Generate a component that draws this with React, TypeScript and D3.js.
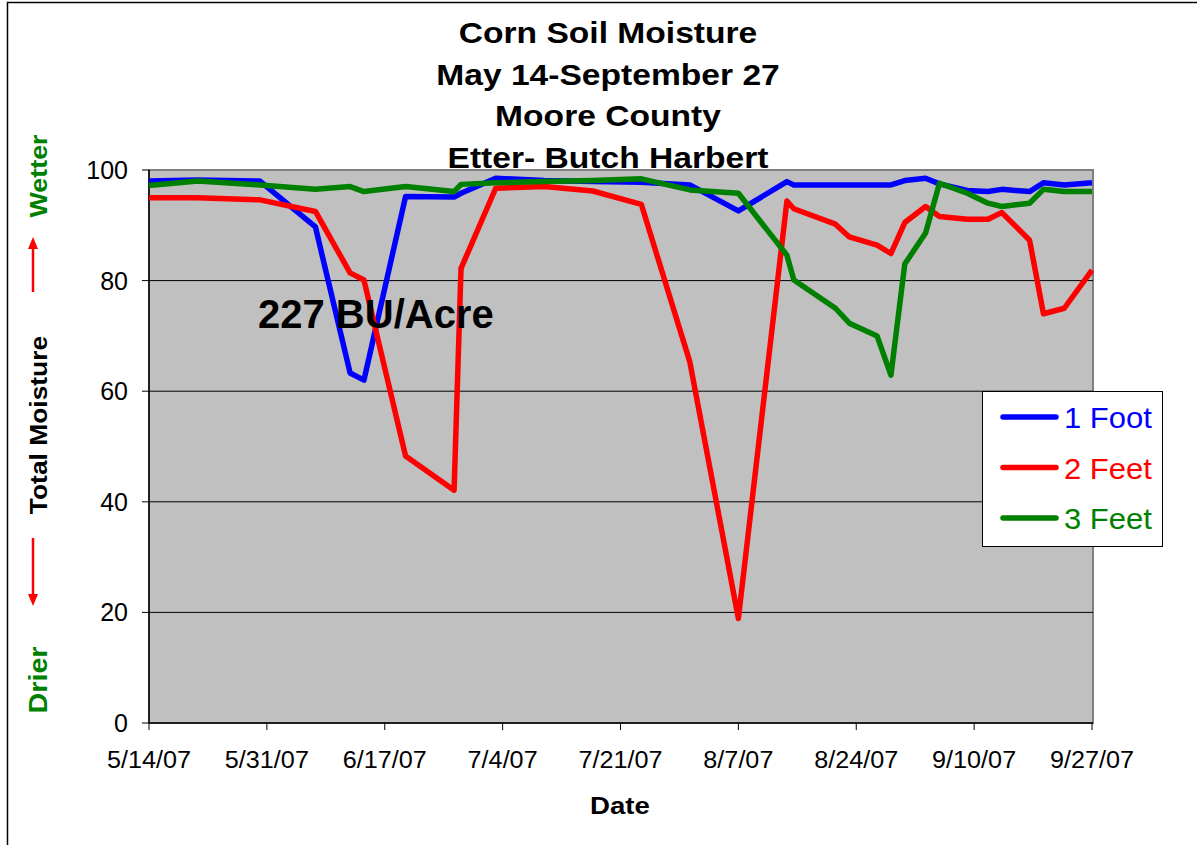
import React from "react";
import * as d3 from "d3";

// sampling dates, as day offsets from 5/14/07
const dayOffsets = [
  0, 7, 16, 24, 29, 31, 37, 44, 45, 50, 57, 64, 71, 78, 85, 92, 93, 99, 101,
  105, 107, 109, 112, 114, 118, 121, 123, 127, 129, 132, 136,
];

const oneFoot = [
  98, 98.2, 98, 89.7, 63.3, 62, 95.2, 95.1, 95.8, 98.5, 98.1, 97.9, 97.8, 97.3,
  92.6, 97.9, 97.3, 97.3, 97.3, 97.3, 97.3, 98.1, 98.5, 97.5, 96.3, 96.1, 96.5,
  96.1, 97.7, 97.3, 97.7,
];

const twoFeet = [
  95, 95, 94.6, 92.5, 81.4, 80.1, 48.3, 42.1, 82.2, 96.7, 97, 96.2, 93.8, 65.3,
  18.9, 94.4, 93, 90.2, 87.9, 86.4, 84.9, 90.5, 93.4, 91.6, 91.1, 91.1, 92.3,
  87.3, 74, 75, 81.9,
];

const threeFeet = [
  97.2, 98, 97.3, 96.5, 97, 96.1, 97, 96.1, 97.4, 97.7, 97.9, 98.1, 98.4, 96.4,
  95.8, 84.6, 80.1, 75, 72.3, 70, 62.9, 83, 88.6, 97.6, 95.8, 94, 93.4, 94,
  96.5, 96.1, 96.1,
];

const seriesNames = ["1 Foot", "2 Feet", "3 Feet"];
const seriesColors = ["#0000ff", "#ff0000", "#008000"];
const yTicks = [0, 20, 40, 60, 80, 100];
const xTickOffsets = [0, 17, 34, 51, 68, 85, 102, 119, 136];
const titleLines = [
  "Corn Soil Moisture",
  "May 14-September 27",
  "Moore County",
  "Etter- Butch Harbert",
];

const FONT = "'Liberation Sans', Arial, sans-serif";
const start = new Date(2007, 4, 14);
const dayToDate = (d: number) => d3.timeDay.offset(start, d);

// text that is a bit wider than the font draws it (the original is stretched)
function WideText(props: any) {
  const { x, y, sx = 1, rotate = 0, children, ...rest } = props;
  return (
    <text transform={`translate(${x},${y}) rotate(${rotate}) scale(${sx},1)`} {...rest}>
      {children}
    </text>
  );
}

export default function App() {
  const left = 149;
  const right = 1092;
  const top = 170;
  const bottom = 723;

  const x = d3
    .scaleTime()
    .domain([dayToDate(0), dayToDate(136)])
    .range([left, right]);
  const y = d3.scaleLinear().domain([0, 100]).range([bottom, top]);
  const fmt = d3.timeFormat("%-m/%-d/%y");

  const line = d3
    .line<number>()
    .x((_, i) => x(dayToDate(dayOffsets[i])))
    .y((v) => y(v));

  const series = [oneFoot, twoFeet, threeFeet];

  return (
    <svg
      width={1197}
      height={845}
      style={{ position: "absolute", left: 0, top: 0, background: "#fff" }}
      fontFamily={FONT}
    >
      <rect x={7.5} y={2.5} width={1300} height={900} fill="#fff" stroke="#000" strokeWidth={1.5} />

      {/* title */}
      {titleLines.map((t, i) => (
        <WideText
          key={t}
          x={608}
          y={43 + i * 41.5}
          sx={1.12}
          textAnchor="middle"
          fontWeight="bold"
          fontSize={30}
        >
          {t}
        </WideText>
      ))}

      {/* plot area */}
      <rect x={left} y={top} width={1093 - left} height={bottom - top} fill="#c0c0c0" stroke="#808080" strokeWidth={2} />
      {yTicks
        .filter((t) => t > 0 && t < 100)
        .map((t) => (
          <line key={t} x1={left} x2={1093} y1={y(t)} y2={y(t)} stroke="#000" strokeWidth={1} />
        ))}

      {/* axes */}
      <line x1={left} x2={left} y1={top} y2={bottom} stroke="#000" strokeWidth={1.5} />
      <line x1={left} x2={1093} y1={bottom} y2={bottom} stroke="#000" strokeWidth={1.5} />
      {yTicks.map((t) => (
        <g key={t}>
          <line x1={left - 7} x2={left} y1={y(t)} y2={y(t)} stroke="#000" />
          <text x={128} y={y(t) + 9} textAnchor="end" fontSize={25}>
            {t}
          </text>
        </g>
      ))}
      {xTickOffsets.map((d) => {
        const px = x(dayToDate(d));
        return (
          <g key={d}>
            <line x1={px} x2={px} y1={bottom} y2={bottom + 7} stroke="#000" />
            <WideText x={px} y={768} sx={1.05} textAnchor="middle" fontSize={24}>
              {fmt(dayToDate(d))}
            </WideText>
          </g>
        );
      })}

      <WideText x={620} y={814} sx={1.15} textAnchor="middle" fontWeight="bold" fontSize={24}>
        Date
      </WideText>

      {/* y axis title with arrows */}
      <WideText x={47} y={425} rotate={-90} sx={1.1} textAnchor="middle" fontWeight="bold" fontSize={24}>
        Total Moisture
      </WideText>
      <WideText x={47} y={176} rotate={-90} sx={1.12} textAnchor="middle" fontWeight="bold" fontSize={24} fill="#008000">
        Wetter
      </WideText>
      <WideText x={47} y={680} rotate={-90} sx={1.15} textAnchor="middle" fontWeight="bold" fontSize={25} fill="#008000">
        Drier
      </WideText>
      <line x1={33} x2={33} y1={292} y2={246} stroke="#ff0000" strokeWidth={2.5} />
      <path d="M33,237 L28,249 L38,249 Z" fill="#ff0000" />
      <line x1={33} x2={33} y1={538} y2={596} stroke="#ff0000" strokeWidth={2.5} />
      <path d="M33,606 L28,594 L38,594 Z" fill="#ff0000" />

      {/* data lines */}
      {series.map((s, i) => (
        <path
          key={seriesNames[i]}
          d={line(s) || ""}
          fill="none"
          stroke={seriesColors[i]}
          strokeWidth={5.5}
          strokeLinejoin="round"
        />
      ))}

      <text x={258} y={328} fontWeight="bold" fontSize={40}>
        227 BU/Acre
      </text>

      {/* legend */}
      <rect x={982.5} y={391.5} width={180} height={155} fill="#fff" stroke="#000" strokeWidth={1} />
      {seriesNames.map((n, i) => (
        <g key={n}>
          <line
            x1={1003}
            x2={1056}
            y1={417 + i * 50.5}
            y2={417 + i * 50.5}
            stroke={seriesColors[i]}
            strokeWidth={5.5}
            strokeLinecap="round"
          />
          <WideText x={1064} y={428 + i * 50.5} sx={1.07} fontSize={29} fill={seriesColors[i]}>
            {n}
          </WideText>
        </g>
      ))}
    </svg>
  );
}
